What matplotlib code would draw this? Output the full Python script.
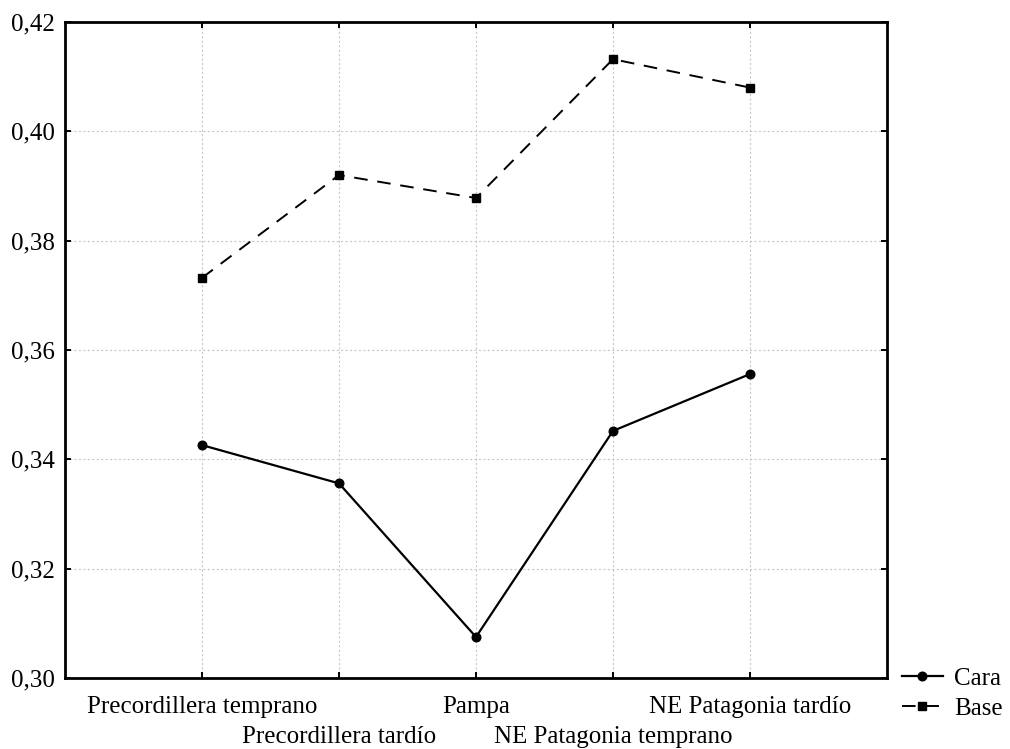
import matplotlib
matplotlib.use("Agg")
import matplotlib.pyplot as plt

categories = ["Precordillera temprano", "Precordillera tardío", "Pampa",
              "NE Patagonia temprano", "NE Patagonia tardío"]
cara = [0.3426, 0.3356, 0.3075, 0.3452, 0.3556]
base = [0.3732, 0.3920, 0.3878, 0.4132, 0.4080]
yticks = [0.30, 0.32, 0.34, 0.36, 0.38, 0.40, 0.42]

plt.rcParams['font.family'] = ['Liberation Serif', 'DejaVu Serif']

fig = plt.figure(figsize=(10.10, 7.49), dpi=100)
ax = fig.add_axes([65/1010, 1-678/749, (887-65)/1010, (678-22)/749])

x = list(range(len(categories)))
ax.plot(x, cara, color='black', lw=1.6, marker='o', markersize=6.2, label='Cara')
ax.plot(x, base, color='black', lw=1.4, marker='s', markersize=6, dashes=(7, 5), label='Base')

ax.set_xlim(-1, 5)
ax.set_ylim(0.30, 0.42)
ax.set_xticks(x)
ax.set_xticklabels([])
ax.set_yticks(yticks)
ax.set_yticklabels([f"{v:.2f}".replace('.', ',') for v in yticks], fontsize=18)

for i, c in enumerate(categories):
    yfrac = -0.044 if i % 2 == 0 else -0.090
    ax.text(i, yfrac, c, transform=ax.get_xaxis_transform(), ha='center', va='center', fontsize=18)

ax.grid(True, color='#c8c8c8', linestyle=(0, (2, 2)), lw=0.8)
ax.tick_params(direction='in', length=4, width=1.4, top=True, right=True, labelsize=18, pad=7)
for s in ax.spines.values():
    s.set_linewidth(2)

leg = ax.legend(loc='center left', bbox_to_anchor=(1.018, -0.024), frameon=False,
                fontsize=18, handlelength=1.65, handletextpad=0.45, labelspacing=0.32,
                borderaxespad=0, borderpad=0)
fig.savefig("out.png", dpi=100)
